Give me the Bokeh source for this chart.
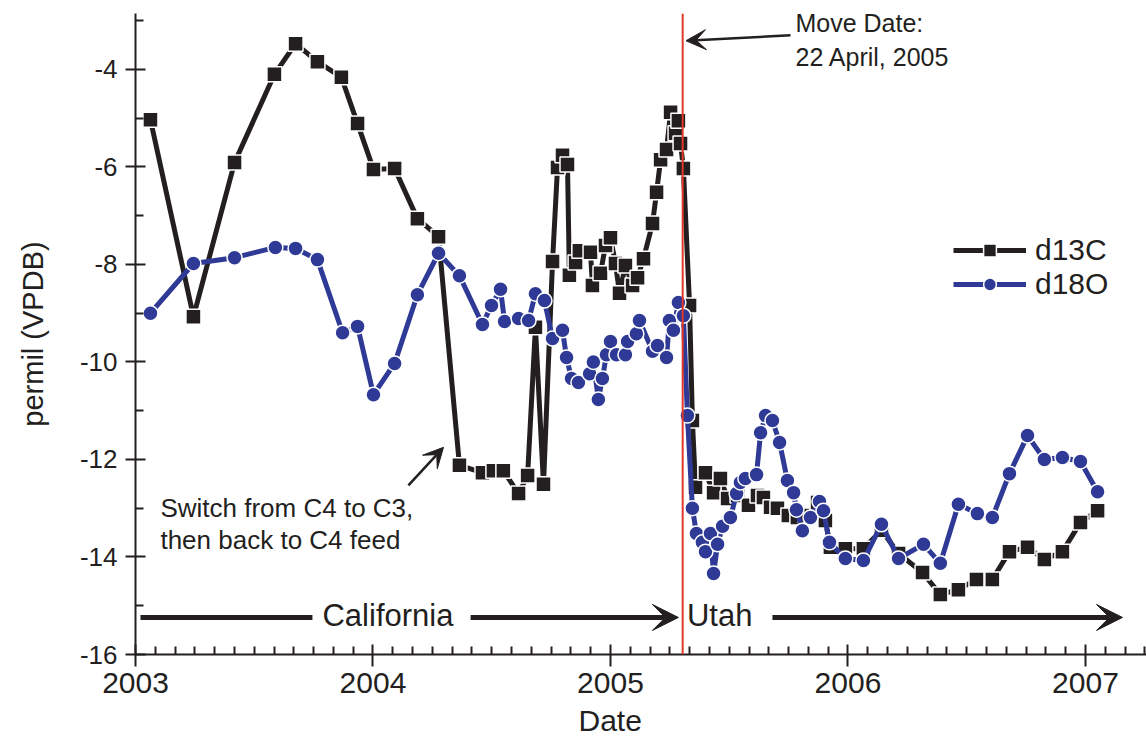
from bokeh.plotting import figure
from bokeh.models import (FixedTicker, Label, Arrow, VeeHead, Span, Legend, LegendItem, Range1d, Title)
from bokeh.embed import file_html
from bokeh.resources import INLINE

# ---------------- data (decimal year, permil VPDB) ----------------
c_dates = [2003.063, 2003.244, 2003.417, 2003.585, 2003.674, 2003.766, 2003.867, 2003.935,
           2004.002, 2004.091, 2004.187, 2004.276, 2004.364, 2004.461, 2004.507, 2004.549,
           2004.613, 2004.651, 2004.684, 2004.718, 2004.756, 2004.777, 2004.798, 2004.819,
           2004.827, 2004.853, 2004.869, 2004.916, 2004.924, 2004.958, 2004.979, 2005.000,
           2005.021, 2005.038, 2005.063, 2005.093, 2005.114, 2005.139, 2005.177, 2005.194,
           2005.211, 2005.236, 2005.253, 2005.274, 2005.286, 2005.295, 2005.307, 2005.333,
           2005.345, 2005.358, 2005.400, 2005.434, 2005.463, 2005.493, 2005.535, 2005.581,
           2005.619, 2005.644, 2005.674, 2005.703, 2005.749, 2005.787, 2005.821, 2005.872,
           2005.905, 2005.926, 2005.989, 2006.065, 2006.141, 2006.213, 2006.314, 2006.389,
           2006.465, 2006.541, 2006.608, 2006.680, 2006.756, 2006.827, 2006.903, 2006.979,
           2007.051]
d13C = [-5.03, -9.07, -5.91, -4.10, -3.47, -3.84, -4.16, -5.11,
        -6.05, -6.03, -7.06, -7.43, -12.12, -12.27, -12.23, -12.23,
        -12.70, -12.33, -9.29, -12.51, -7.94, -6.01, -5.76, -5.95,
        -8.22, -7.96, -7.72, -7.75, -8.43, -8.18, -7.61, -7.45,
        -7.98, -8.59, -8.02, -8.43, -8.27, -7.88, -7.16, -6.52,
        -5.85, -5.64, -4.88, -5.31, -5.05, -5.52, -6.03, -8.84,
        -11.20, -12.57, -12.27, -12.68, -12.39, -12.80, -12.74, -12.94,
        -12.74, -12.78, -12.98, -13.00, -13.15, -13.19, -13.15, -12.88,
        -13.25, -13.80, -13.83, -13.83, -13.45, -13.93, -14.32, -14.77,
        -14.67, -14.46, -14.46, -13.89, -13.80, -14.05, -13.89, -13.29,
        -13.05]

o_dates = [2003.063, 2003.244, 2003.417, 2003.589, 2003.674, 2003.766, 2003.872, 2003.935,
           2004.002, 2004.091, 2004.187, 2004.276, 2004.364, 2004.461, 2004.499, 2004.537,
           2004.554, 2004.613, 2004.655, 2004.684, 2004.722, 2004.756, 2004.798, 2004.815,
           2004.836, 2004.865, 2004.912, 2004.928, 2004.949, 2004.966, 2004.983, 2005.000,
           2005.025, 2005.063, 2005.072, 2005.109, 2005.122, 2005.177, 2005.198, 2005.236,
           2005.248, 2005.265, 2005.286, 2005.307, 2005.324, 2005.345, 2005.362, 2005.387,
           2005.400, 2005.421, 2005.434, 2005.451, 2005.472, 2005.505, 2005.531, 2005.547,
           2005.568, 2005.615, 2005.632, 2005.653, 2005.682, 2005.712, 2005.745, 2005.771,
           2005.783, 2005.808, 2005.842, 2005.880, 2005.897, 2005.922, 2005.989, 2006.065,
           2006.141, 2006.213, 2006.318, 2006.389, 2006.465, 2006.545, 2006.608, 2006.680,
           2006.756, 2006.827, 2006.903, 2006.979, 2007.051]
d18O = [-9.00, -7.98, -7.86, -7.65, -7.67, -7.90, -9.40, -9.27,
        -10.67, -10.03, -8.62, -7.77, -8.23, -9.23, -8.84, -8.51,
        -9.17, -9.11, -9.15, -8.60, -8.74, -9.52, -9.35, -9.91,
        -10.34, -10.42, -10.24, -10.00, -10.77, -10.34, -9.85, -9.58,
        -9.85, -9.85, -9.58, -9.42, -9.15, -9.78, -9.66, -9.91,
        -9.15, -9.35, -8.78, -9.05, -11.10, -13.00, -13.52, -13.70,
        -13.89, -13.52, -14.34, -13.74, -13.37, -13.19, -12.70, -12.47,
        -12.39, -12.31, -11.45, -11.10, -11.20, -11.65, -12.43, -12.68,
        -13.03, -13.46, -13.19, -12.86, -13.05, -13.70, -14.03, -14.07,
        -13.33, -14.03, -13.74, -14.13, -12.92, -13.11, -13.19, -12.29,
        -11.51, -12.00, -11.96, -12.04, -12.66]

year_ticks = [2003, 2004, 2005, 2006, 2007]
y_ticks = [-16, -14, -12, -10, -8, -6, -4]
y_minor = [-15, -13, -11, -9, -7, -5, -3]
move_date = 2005.304  # 22 April 2005

FONT = "Liberation Sans"
INK = "#231f20"
BLUE = "#2e3a96"
RED = "#e0392c"

p = figure(width=1146, height=744, output_backend="svg", toolbar_location=None,
           x_range=Range1d(2003.0, 2007.257), y_range=Range1d(-16.0, -2.852),
           min_border_left=135, min_border_right=0, min_border_top=13, min_border_bottom=90)
p.outline_line_color = None
p.xgrid.visible = False
p.ygrid.visible = False
p.background_fill_color = "white"
p.border_fill_color = "white"

# axes
month_minor = [y + m / 12 for y in range(2003, 2008) for m in range(1, 12)]
p.xaxis.ticker = FixedTicker(ticks=year_ticks, minor_ticks=month_minor)
p.yaxis.ticker = FixedTicker(ticks=y_ticks, minor_ticks=y_minor)
p.yaxis.major_label_overrides = {v: str(v) for v in y_ticks}
p.xaxis.major_label_overrides = {v: str(v) for v in year_ticks}
for ax in (p.xaxis[0], p.yaxis[0]):
    ax.axis_line_color = INK
    ax.axis_line_width = 2
    ax.major_tick_line_color = INK
    ax.major_tick_line_width = 2
    ax.minor_tick_line_color = INK
    ax.minor_tick_line_width = 2
    ax.major_label_text_font = FONT
    ax.major_label_text_color = INK
    ax.axis_label_text_font = FONT
    ax.axis_label_text_color = INK
    ax.axis_label_text_font_style = "normal"
p.xaxis.major_tick_in = 10
p.xaxis.major_tick_out = 12
p.xaxis.minor_tick_in = 8
p.xaxis.minor_tick_out = 0
p.xaxis.major_label_text_font_size = "30px"
p.xaxis.major_label_standoff = 6
p.yaxis.major_tick_in = 10
p.yaxis.major_tick_out = 10
p.yaxis.minor_tick_in = 8
p.yaxis.minor_tick_out = 0
p.yaxis.major_label_text_font_size = "26px"
p.yaxis.major_label_standoff = 8
p.yaxis.axis_label = "permil (VPDB)"
p.yaxis.axis_label_text_font_size = "29px"
p.yaxis.axis_label_standoff = 28

p.add_layout(Title(text="Date", align="left", offset=443, standoff=13,
                   text_font=FONT, text_font_size="30px", text_font_style="normal",
                   text_color=INK), "below")

# move date line
p.add_layout(Span(location=move_date, dimension="height", line_color=RED, line_width=2))

# series
lc = p.line(c_dates, d13C, line_color=INK, line_width=5)
sc = p.scatter(c_dates, d13C, marker="square", size=15, fill_color=INK,
               line_color="white", line_width=1.5)
lo = p.line(o_dates, d18O, line_color=BLUE, line_width=5)
so = p.scatter(o_dates, d18O, marker="circle", size=15, fill_color=BLUE,
               line_color="white", line_width=1.5)

legend = Legend(items=[LegendItem(label="d13C", renderers=[lc, sc]),
                       LegendItem(label="d18O", renderers=[lo, so])],
                location=(818, 353), glyph_width=73, glyph_height=32, label_height=32,
                spacing=0, padding=0, margin=0, label_standoff=9,
                label_text_font=FONT, label_text_font_size="30px", label_text_color=INK,
                border_line_color=None, background_fill_alpha=0)
p.add_layout(legend)

def txt(x, y, s, size, align="left"):
    p.add_layout(Label(x=x, y=y, text=s, text_font=FONT, text_font_size=size,
                       text_color=INK, text_align=align, text_baseline="middle"))

def arrow(x0, y0, x1, y1, head=True, w=4, hs=24):
    end = VeeHead(size=hs, fill_color=INK, line_color=INK) if head else None
    p.add_layout(Arrow(end=end, x_start=x0, y_start=y0, x_end=x1, y_end=y1,
                       line_color=INK, line_width=w))

# annotations
txt(2005.779, -3.04, "Move Date:", "25px")
txt(2005.779, -3.75, "22 April, 2005", "25px")
arrow(2005.758, -3.30, 2005.318, -3.41, w=2.5, hs=20)

txt(2003.105, -13.00, "Switch from C4 to C3,", "26px")
txt(2003.105, -13.66, "then back to C4 feed", "26px")
arrow(2004.149, -12.53, 2004.297, -11.75, w=2.5, hs=20)

txt(2004.063, -15.20, "California", "31px", align="center")
arrow(2003.021, -15.24, 2003.745, -15.24, head=False, w=5)
arrow(2004.411, -15.24, 2005.286, -15.24, w=5, hs=26)
txt(2005.322, -15.20, "Utah", "31px")
arrow(2005.682, -15.24, 2007.156, -15.24, w=5, hs=26)

open("out.html", "w").write(file_html(p, INLINE))
